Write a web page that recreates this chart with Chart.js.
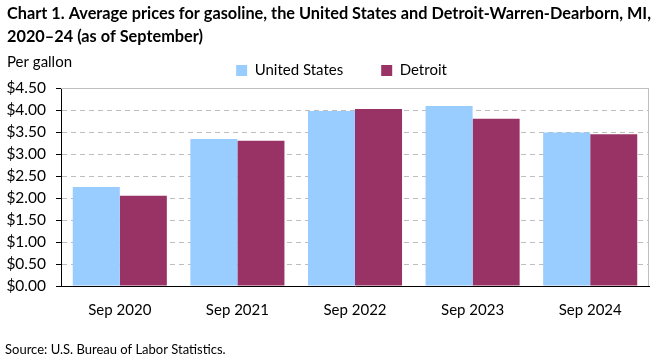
<!DOCTYPE html>
<html>
<head>
<meta charset="utf-8">
<script src="https://cdn.jsdelivr.net/npm/chart.js@4.4.1/dist/chart.umd.min.js"></script>
<style>
  html, body { margin: 0; padding: 0; background: #fff; }
  #wrap { width: 661px; height: 361px; }
</style>
</head>
<body>
<div id="wrap"><canvas id="myChart" width="661" height="361"></canvas></div>
<script>
// data
var categories = ['Sep 2020', 'Sep 2021', 'Sep 2022', 'Sep 2023', 'Sep 2024'];
var usPrices = [2.25, 3.34, 3.98, 4.09, 3.49];
var detroitPrices = [2.05, 3.30, 4.02, 3.80, 3.45];
var seriesNames = ['United States', 'Detroit'];
var titleLines = [
  'Chart 1. Average prices for gasoline, the United States and Detroit-Warren-Dearborn, MI,',
  '2020\u201324 (as of September)'
];
var unitLabel = 'Per gallon';
var sourceNote = 'Source: U.S. Bureau of Labor Statistics.';

var FONT = 'Lato, "Open Sans", sans-serif';

// title, unit label, source note and the grey frame around the plot
var textPlugin = {
  id: 'texts',
  afterLayout: function (chart) {
    // legend sits a bit right of the canvas centre in the original
    chart.legend.left += 17;
    chart.legend.right += 17;
  },
  beforeDatasetsDraw: function (chart) {
    var ctx = chart.ctx, a = chart.chartArea;
    ctx.save();
    ctx.strokeStyle = '#bfbfbf';
    ctx.lineWidth = 1;
    ctx.setLineDash([]);
    ctx.beginPath();
    ctx.moveTo(a.left, a.top + 0.5);
    ctx.lineTo(a.right - 0.5, a.top + 0.5);
    ctx.lineTo(a.right - 0.5, a.bottom);
    ctx.stroke();
    ctx.restore();
  },
  afterDraw: function (chart) {
    var ctx = chart.ctx;
    ctx.save();
    ctx.fillStyle = '#000';
    ctx.textBaseline = 'alphabetic';
    ctx.font = 'bold 17px ' + FONT;
    var w = ctx.measureText(titleLines[0]).width;
    var sx = Math.min(1, 644 / w);
    titleLines.forEach(function (line, i) {
      ctx.save();
      ctx.translate(7, 19 + i * 23);
      ctx.scale(sx, 1);
      ctx.fillText(line, 0, 0);
      ctx.restore();
    });
    ctx.font = '15px ' + FONT;
    ctx.fillText(unitLabel, 7, 67);
    ctx.font = '13px ' + FONT;
    ctx.fillText(sourceNote, 5, 354);
    ctx.restore();
  }
};

var chart = document.getElementById('myChart').getContext('2d');
var myChart = new Chart(chart, {
  type: 'bar',
  data: {
    labels: categories,
    datasets: [
      {
        label: seriesNames[0],
        data: usPrices,
        backgroundColor: '#99ccff',
        borderWidth: 0
      },
      {
        label: seriesNames[1],
        data: detroitPrices,
        backgroundColor: '#993366',
        borderWidth: 0
      }
    ]
  },
  options: {
    responsive: false,
    animation: false,
    devicePixelRatio: 1,
    categoryPercentage: 0.8,
    barPercentage: 1.0,
    layout: {
      padding: { top: 25, right: 12, left: 0, bottom: 0 }
    },
    scales: {
      x: {
        grid: { display: false },
        border: { color: '#000', width: 1 },
        ticks: {
          color: '#000',
          padding: 7,
          font: { family: FONT, size: 15 }
        },
        afterFit: function (scale) { scale.height = 75; }
      },
      y: {
        min: 0,
        max: 4.5,
        grid: {
          color: '#bdbdbd',
          tickColor: '#000',
          tickLength: 5,
          tickBorderDash: [],
          drawOnChartArea: true
        },
        border: { color: '#000', width: 1, dash: [5, 4] },
        ticks: {
          stepSize: 0.5,
          autoSkip: false,
          color: '#000',
          padding: 10,
          font: { family: FONT, size: 15.5 },
          callback: function (v) { return '$' + Number(v).toFixed(2); }
        },
        afterFit: function (scale) { scale.width = 61; }
      }
    },
    plugins: {
      legend: {
        position: 'top',
        labels: {
          color: '#000',
          boxWidth: 11,
          boxHeight: 11,
          padding: 38,
          font: { family: FONT, size: 15 }
        }
      },
      title: { display: false },
      tooltip: { enabled: false }
    }
  },
  plugins: [textPlugin]
});
</script>
</body>
</html>
